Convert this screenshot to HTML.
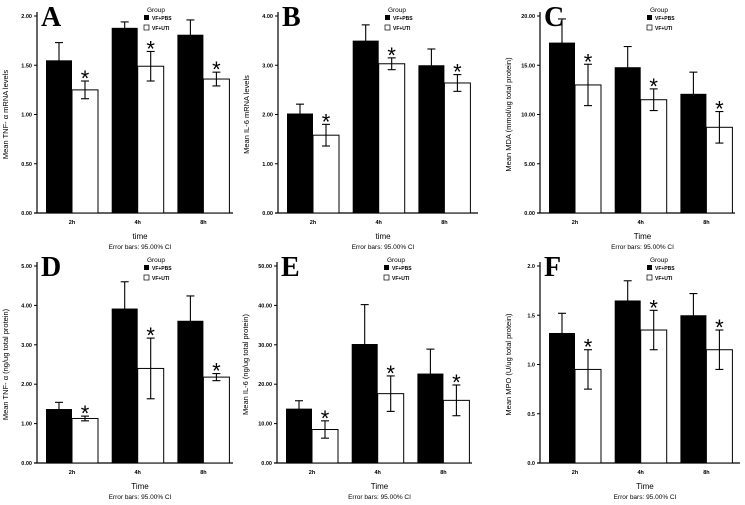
<!DOCTYPE html>
<html><head><meta charset="utf-8"><style>
body{margin:0;background:#fff}
svg{display:block;font-family:"Liberation Sans",sans-serif}
</style></head><body>
<svg id="fig" width="745" height="505" viewBox="0 0 745 505" xmlns="http://www.w3.org/2000/svg"></svg>
<script>
const categories = ["2h","4h","8h"];
const letters = ["A","B","C","D","E","F"];
const yTitles = ["Mean TNF- \u03b1 mRNA levels","Mean IL-6 mRNA levels","Mean MDA (mmol/ug total protein)","Mean TNF- \u03b1 (ng/ug total protein)","Mean IL-6 (ng/ug total protein)","Mean MPO (U/ug total protein)"];
const xTitles = ["time","time","Time","Time","Time","Time"];
const yMax = [2,4,20,5,50,2];
const tickStep = [0.5,1,5,1,10,0.5];
const tickDecimals = [2,2,2,2,2,1];
const pbsA = [1.55,1.88,1.81], pbsErrA = [0.18,0.06,0.15];
const utiA = [1.25,1.49,1.36], utiErrA = [0.09,0.15,0.07];
const pbsB = [2.02,3.50,3.00], pbsErrB = [0.19,0.32,0.33];
const utiB = [1.58,3.03,2.64], utiErrB = [0.22,0.12,0.17];
const pbsC = [17.3,14.8,12.1], pbsErrC = [2.4,2.1,2.2];
const utiC = [13.0,11.5,8.7], utiErrC = [2.1,1.1,1.6];
const pbsD = [1.37,3.92,3.61], pbsErrD = [0.17,0.68,0.63];
const utiD = [1.13,2.40,2.18], utiErrD = [0.06,0.77,0.09];
const pbsE = [13.8,30.2,22.7], pbsErrE = [2.0,10.0,6.2];
const utiE = [8.5,17.6,15.9], utiErrE = [2.2,4.5,3.9];
const pbsF = [1.32,1.65,1.50], pbsErrF = [0.20,0.20,0.22];
const utiF = [0.95,1.35,1.15], utiErrF = [0.20,0.20,0.20];
const pbsAll=[pbsA,pbsB,pbsC,pbsD,pbsE,pbsF], pbsErrAll=[pbsErrA,pbsErrB,pbsErrC,pbsErrD,pbsErrE,pbsErrF];
const utiAll=[utiA,utiB,utiC,utiD,utiE,utiF], utiErrAll=[utiErrA,utiErrB,utiErrC,utiErrD,utiErrE,utiErrF];

const layout=[{ax:37,xe:233,top:16,bot:213},{ax:278,xe:478,top:16,bot:213},{ax:540,xe:735,top:16,bot:213},
{ax:37,xe:233,top:266,bot:463},{ax:277,xe:472,top:266,bot:463},{ax:540,xe:740,top:266,bot:463}];
const svg=document.getElementById('fig');
const NS="http://www.w3.org/2000/svg";
function mk(tag,attrs,parent,text){const e=document.createElementNS(NS,tag);for(const k in attrs)e.setAttribute(k,attrs[k]);if(text!==undefined)e.textContent=text;parent.appendChild(e);return e;}

layout.forEach((L,p)=>{
  const g=mk('g',{},svg);
  
  
  const y=v=>L.bot-(v/yMax[p])*(L.bot-L.top);
  const gx=i=>L.ax+9+i*65.7;
  const bw=26;
  const ya=mk('line',{x1:L.ax,y1:L.top-4,x2:L.ax,y2:L.bot,stroke:'#000','stroke-width':1.2},g);
  
  const xa=mk('line',{x1:L.ax-3,y1:L.bot,x2:L.xe,y2:L.bot,stroke:'#000','stroke-width':1.2},g);
  
  const nT=Math.round(yMax[p]/tickStep[p]);
  for(let t=0;t<=nT;t++){
    const v=tickStep[p]*t, yy=y(v);
    mk('line',{x1:L.ax-3,y1:yy,x2:L.ax,y2:yy,stroke:'#000'},g);
    const tl=mk('text',{x:L.ax-5,y:yy+2,'font-size':5.5,'font-weight':'bold','text-anchor':'end'},g,v.toFixed(tickDecimals[p]));
    
  }
  const tx=L.ax-29, ty=(L.top+L.bot)/2;
  const yt=mk('text',{x:tx,y:ty,'font-size':7.5,'text-anchor':'middle',transform:`rotate(-90 ${tx} ${ty})`},g,yTitles[p]);
  
  const lt=mk('text',{x:L.ax+4,y:L.top+10,'font-size':28,'font-weight':'bold','font-family':'Liberation Serif, serif'},g,letters[p]);
  
  categories.forEach((c,i)=>{
    const x0=gx(i);
    const pv=pbsAll[p][i], pe=pbsErrAll[p][i], uv=utiAll[p][i], ue=utiErrAll[p][i];
    const b1=mk('rect',{x:x0,y:y(pv),width:bw,height:L.bot-y(pv),fill:'#000'},g);
    
    const b2=mk('rect',{x:x0+bw,y:y(uv),width:bw,height:L.bot-y(uv),fill:'#fff',stroke:'#000','stroke-width':1},g);
    
    [[x0+bw/2,pv,pe],[x0+bw*1.5,uv,ue]].forEach(([cx,v,e],k)=>{
      const eg=mk('g',{stroke:'#000','stroke-width':1.1},g);
      
      
      mk('line',{x1:cx,y1:y(v+e),x2:cx,y2:y(v-e)},eg);
      mk('line',{x1:cx-4,y1:y(v+e),x2:cx+4,y2:y(v+e)},eg);
      mk('line',{x1:cx-4,y1:y(v-e),x2:cx+4,y2:y(v-e)},eg);
    });
    const st=mk('text',{x:x0+bw*1.5,y:y(uv+ue)+5,'font-size':22,'text-anchor':'middle'},g,'*');
    
    const cl=mk('text',{x:x0+bw,y:L.bot+11,'font-size':5.5,'font-weight':'bold','text-anchor':'middle'},g,c);
    
  });
  const mid=(L.ax+L.xe)/2+5;
  const xt=mk('text',{x:mid,y:L.bot+26,'font-size':8,'text-anchor':'middle'},g,xTitles[p]);
  
  const eb=mk('text',{x:mid,y:L.bot+36,'font-size':6.5,'text-anchor':'middle'},g,'Error bars: 95.00% CI');
  
  const lx=L.ax+107;
  const lg=mk('g',{},g);
  
  mk('text',{x:lx+12,y:L.top-4,'font-size':6.5,'text-anchor':'middle'},lg,'Group');
  mk('rect',{x:lx,y:L.top-1,width:5,height:5,fill:'#000'},lg);
  mk('text',{x:lx+8,y:L.top+4,'font-size':5,'font-weight':'bold'},lg,'VF+PBS');
  mk('rect',{x:lx,y:L.top+9,width:5,height:5,fill:'#fff',stroke:'#000','stroke-width':0.7},lg);
  mk('text',{x:lx+8,y:L.top+14,'font-size':5,'font-weight':'bold'},lg,'VF+UTI');
});
</script>
</body></html>
